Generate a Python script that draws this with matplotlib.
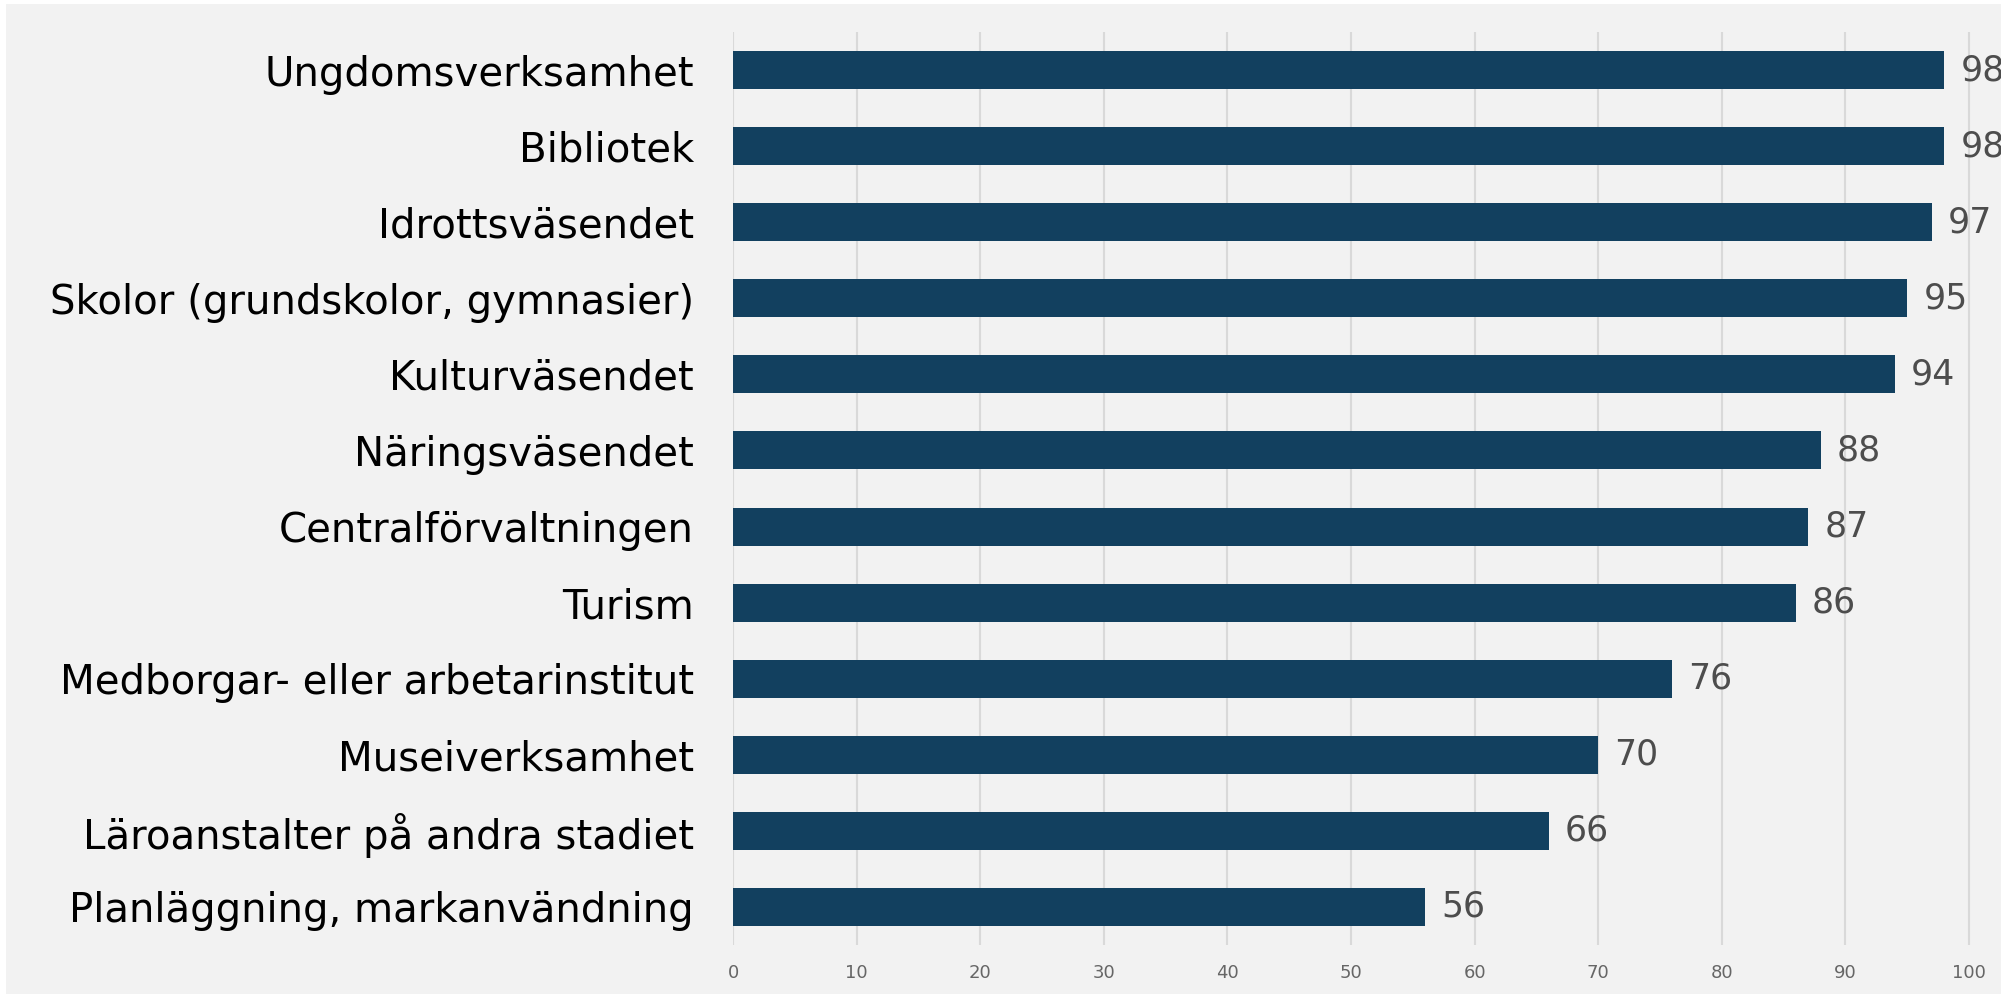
import matplotlib
matplotlib.use("Agg")
import matplotlib.pyplot as plt
from matplotlib.patches import Rectangle

categories = [
    "Ungdomsverksamhet",
    "Bibliotek",
    "Idrottsväsendet",
    "Skolor (grundskolor, gymnasier)",
    "Kulturväsendet",
    "Näringsväsendet",
    "Centralförvaltningen",
    "Turism",
    "Medborgar- eller arbetarinstitut",
    "Museiverksamhet",
    "Läroanstalter på andra stadiet",
    "Planläggning, markanvändning",
]
values = [98, 98, 97, 95, 94, 88, 87, 86, 76, 70, 66, 56]
xticks = [0, 10, 20, 30, 40, 50, 60, 70, 80, 90, 100]

BG = "#f2f2f2"
BAR = "#12405f"

plt.rcParams["font.family"] = ["DejaVu Sans"]

fig = plt.figure(figsize=(20.01, 9.94), dpi=100, facecolor="white")
fig.patches.append(Rectangle((6 / 2001, 0), 1, 1 - 4 / 994, transform=fig.transFigure,
                             facecolor=BG, edgecolor="none", zorder=-10))

ax = fig.add_axes([733 / 2001, 1 - 945 / 994, (2001 - 733) / 2001, (945 - 32) / 994])
ax.set_facecolor("none")

ypos = list(range(len(categories)))
ax.barh(ypos, values, height=0.5, color=BAR, zorder=3)
for y, v in zip(ypos, values):
    ax.text(v + 1.3, y, str(v), va="center", ha="left", fontsize=25, color="#4d4d4d",
            clip_on=False)

ax.set_xlim(0, (2001 - 733) / 12.36)
ax.set_ylim(len(categories) - 0.5, -0.5)
ax.set_xticks(xticks)
ax.set_yticks(ypos)
ax.set_yticklabels(categories, fontsize=29, color="black")
ax.tick_params(axis="y", length=0, pad=28)
ax.tick_params(axis="x", length=0, pad=14, labelsize=13, labelcolor="#666666")
ax.grid(axis="x", color="#d9d9d9", lw=1.5, zorder=0)
for s in ax.spines.values():
    s.set_visible(False)

fig.savefig("out.png", dpi=100, facecolor="white")
